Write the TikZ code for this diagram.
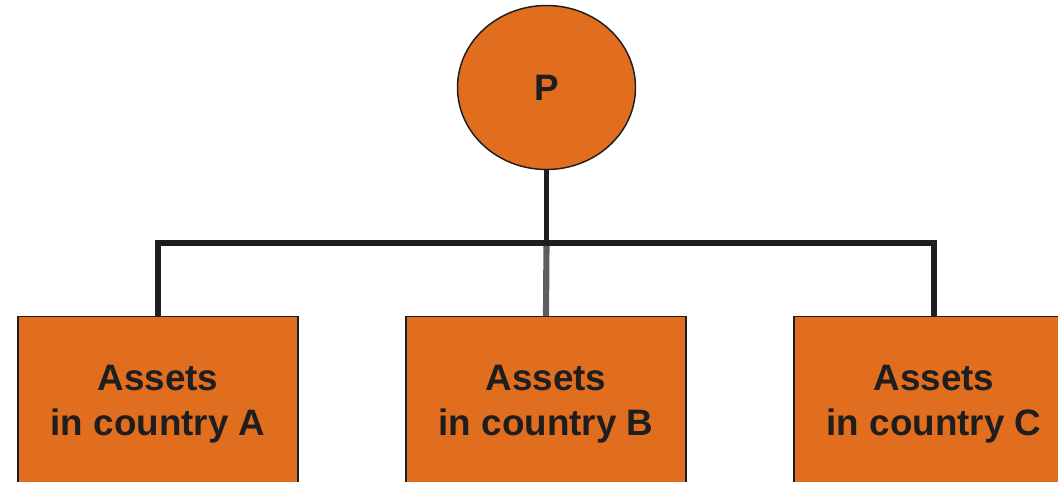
\documentclass[tikz,border=0pt]{standalone}
\usepackage{fontspec}
\setmainfont{Liberation Sans}
\usetikzlibrary{shapes.geometric}
\definecolor{boxorange}{HTML}{E16D1F}
\definecolor{inkdark}{HTML}{1E1E1E}
\definecolor{stemgrey}{HTML}{5E5E5E}
\begin{document}
\begin{tikzpicture}[x=0.75pt,y=-0.75pt,
  lbl/.style={font=\fontsize{27.6}{33.75}\selectfont\bfseries, text=inkdark, align=center},
  assetbox/.style={lbl, draw=inkdark, line width=1.1pt, fill=boxorange, rectangle,
    minimum width=210pt, minimum height=131.25pt, inner sep=0pt, anchor=north},
  parent/.style={lbl, draw=inkdark, line width=1.1pt, fill=boxorange, ellipse,
    minimum width=133.5pt, minimum height=123pt, inner sep=0pt},
  link/.style={line width=3.9pt, draw=inkdark, line cap=butt, line join=miter}
]
\useasboundingbox (0,0) rectangle (1058,482);
\clip (0,0) rectangle (1058,482);

% parent entity and the three asset boxes
\node[parent] (P) at (546.5,87.5) {P};
\node[assetbox] (A) at (158,316) {Assets\\in country A};
\node[assetbox] (B) at (546,316) {Assets\\in country B};
\node[assetbox] (C) at (934,316) {Assets\\in country C};

% branching connectors
\coordinate (J) at (546.5,243);
\draw[link, draw=stemgrey, line width=4.6pt] (J) -- (B.north);
\draw[link] (P.south) -- (J);
\draw[link] (A.north) |- (J) -| (C.north);
\end{tikzpicture}
\end{document}
